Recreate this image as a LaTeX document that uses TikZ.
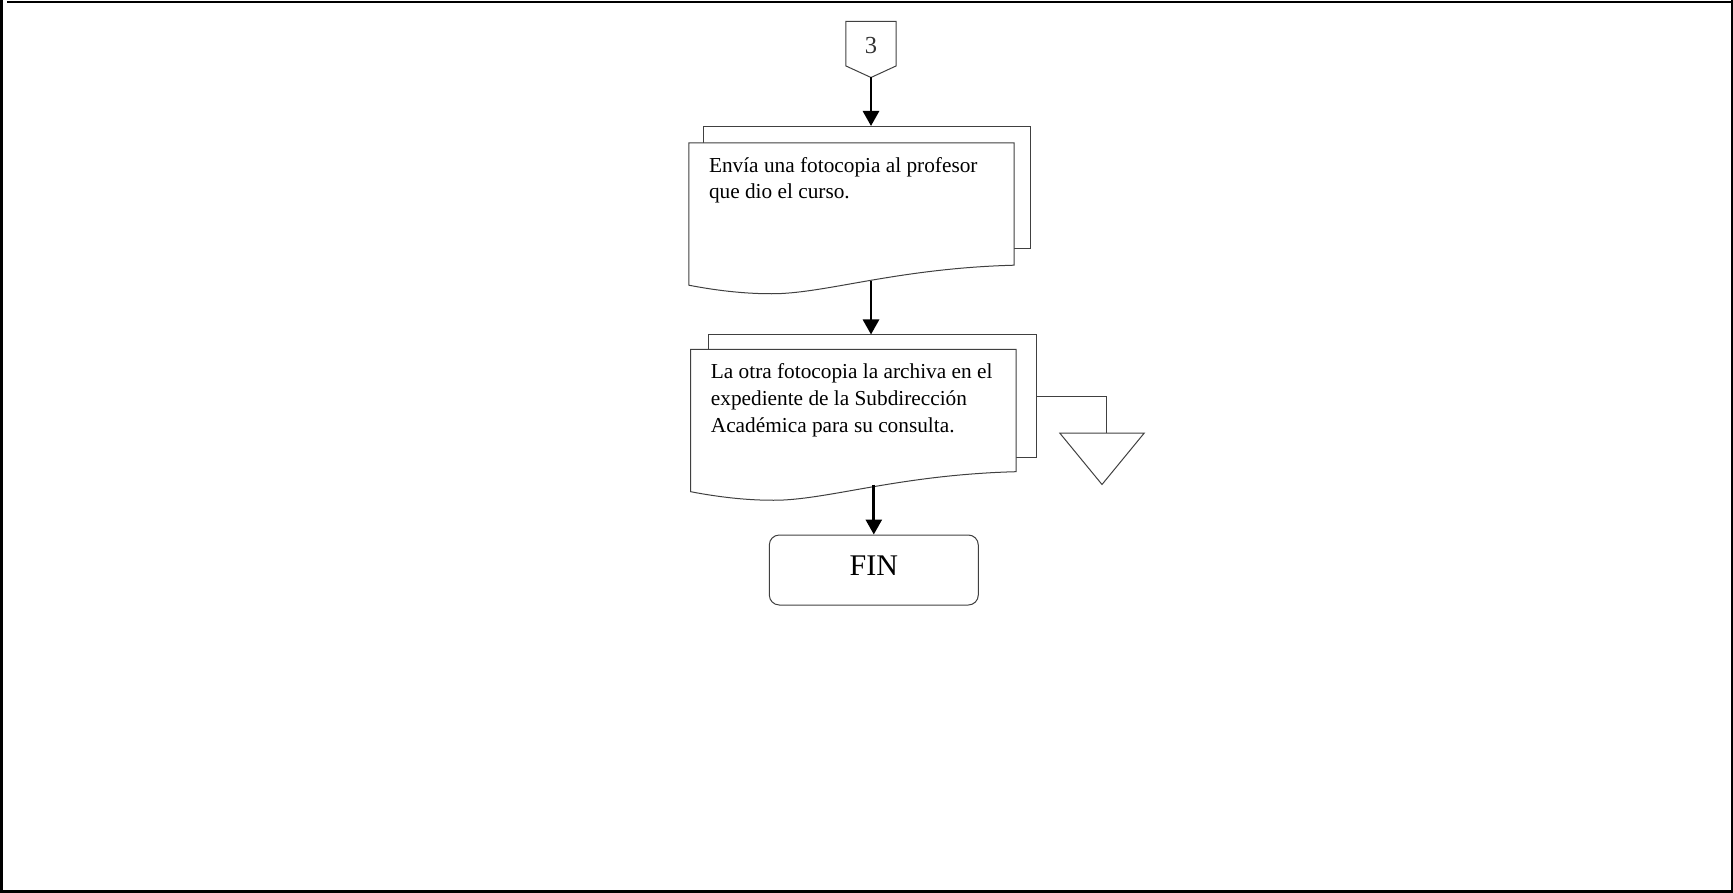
\documentclass[tikz,border=0pt]{standalone}
\usepackage{fontspec}
\setmainfont{Liberation Serif}
\usetikzlibrary{arrows.meta,calc,positioning}

\tikzset{
  thinline/.style={draw=black!75, line width=1pt},
  backsheet/.style={thinline, fill=white, minimum width=327pt, minimum height=122pt, inner sep=0pt},
  sheet/.style={minimum width=325pt, minimum height=122pt, inner sep=0pt},
  sheettext/.style={anchor=north west, inner sep=0pt, align=left, font=\fontsize{21.3}{26.7}\selectfont},
  flow/.style={line width=2.8pt, -{Triangle[width=16pt,length=15pt]}},
}

% outline of a document sheet with wavy bottom
\newcommand{\drawsheet}[1]{%
  \draw[thinline, fill=white] (#1.north west) -- (#1.north east) -- (#1.south east)
    .. controls ($(#1.south east)+(-114,3)$) and ($(#1.south west)+(141,27)$) .. ($(#1.south west)+(88,28.5)$)
    .. controls ($(#1.south west)+(61,29)$) and ($(#1.south west)+(31,26)$) .. ($(#1.south west)+(0,20)$)
    -- cycle;}

\begin{document}
\begin{tikzpicture}[x=1pt, y=-1pt]
    \useasboundingbox (0,0) rectangle (1733,893);
    % Page frame
    \fill (0,0) rectangle (3.3,893); \fill (6.7,1) rectangle (1733,3.3);
    \fill (1731,0) rectangle (1733,893); \fill (0,890) rectangle (1733,893);

    % Off-page connector
    \node[minimum width=50pt, minimum height=44pt, inner sep=0pt, text=black!80,
      text height=19.2pt, text depth=0pt, font=\fontsize{24.5}{28}\selectfont] (off3) at (871,43.7) {3};
    \coordinate (off3tip) at ($(off3.south)+(0,11.6)$);
    \draw[thinline] (off3.north west) -- (off3.north east) -- (off3.south east) --
    (off3tip) -- (off3.south west) -- cycle;

    % First document
    \node[backsheet] (doc1back) at (866.5,187.5) {};
    \node[sheet] (doc1) at (851.5,204) {};
    \drawsheet{doc1}
    \node[sheettext] (doc1txt) at ($(doc1.north west)+(20,14.3)$) {Envía una fotocopia al profesor\\ que dio el curso.};

    % Second document
    \node[backsheet, minimum width=328pt] (doc2back) at (872,396) {};
    \node[sheet] (doc2) at (853.4,410.5) {};
    \drawsheet{doc2}
    \node[sheettext] (doc2txt) at ($(doc2.north west)+(20,14.5)$) {La otra fotocopia la archiva en el\\ expediente de la Subdirección\\ Académica para su consulta.};

    % Archive
    \node[minimum width=84pt, minimum height=51pt, inner sep=0pt] (arch) at (1102,458.8) {};
    \draw[thinline] (arch.north west) -- (arch.north east) -- (arch.south) -- cycle;
    \draw[thinline] (doc2back.east) -| ($(arch.north)+(4,0)$);

    % End
    \node[thinline, rounded corners=10pt, minimum width=209pt, minimum height=70pt,
      text height=20pt, text depth=10pt, font=\fontsize{30}{36}\selectfont] (fin) at (873.8,570) {FIN};

    % Flow arrows
    \draw[flow] (off3tip) -- (off3tip |- doc1back.north);
    \coordinate (doc1out) at ($(off3tip |- doc1.south)+(0,16)$);
    \draw[flow] (doc1out) -- (doc1out |- doc2back.north);
    \coordinate (doc2out) at ($(fin.north |- doc2.south)+(0,13)$);
    \draw[flow] (doc2out) -- (fin.north);
\end{tikzpicture}
\end{document}
